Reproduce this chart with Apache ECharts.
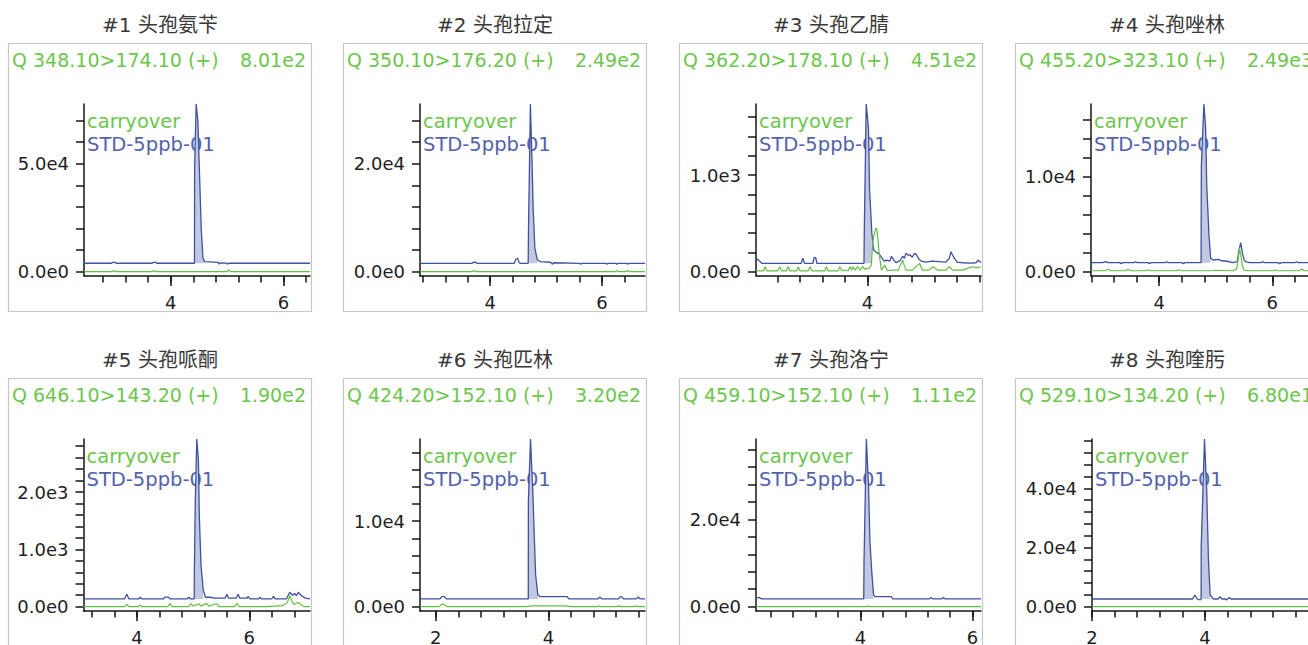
<!DOCTYPE html>
<html>
<head>
<meta charset="utf-8">
<script src="https://cdn.jsdelivr.net/npm/echarts@6/dist/echarts.min.js"></script>
<style>
  html, body { margin: 0; padding: 0; background: #fff; }
  #chart { width: 1308px; height: 645px; }
</style>
</head>
<body>
<div id="chart"></div>
<script>
// ---- panel texts ----
const compounds = ['#1 头孢氨苄', '#2 头孢拉定', '#3 头孢乙腈', '#4 头孢唑林',
                   '#5 头孢哌酮', '#6 头孢匹林', '#7 头孢洛宁', '#8 头孢喹肟'];
const transitions = ['Q 348.10>174.10 (+)', 'Q 350.10>176.20 (+)', 'Q 362.20>178.10 (+)', 'Q 455.20>323.10 (+)',
                     'Q 646.10>143.20 (+)', 'Q 424.20>152.10 (+)', 'Q 459.10>152.10 (+)', 'Q 529.10>134.20 (+)'];
const carryoverMax = ['8.01e2', '2.49e2', '4.51e2', '2.49e3', '1.90e2', '3.20e2', '1.11e2', '6.80e1'];
const traceNames = ['carryover', 'STD-5ppb-01'];

// ---- axis windows (retention time, min) ----
const xRanges = [[2.46, 6.47], [2.745, 6.77], [2.016, 6.025], [2.794, 6.79],
                 [3.05, 7.08], [1.72, 5.71], [2.14, 6.15], [2.0, 5.98]];
const xLabelValues = [[4, 6], [4, 6], [4], [4, 6], [4, 6], [2, 4], [4, 6], [2, 4]];
const xTickStep = 0.4;

// ---- axis windows (intensity, counts) ----
const yRanges = [[-1990, 77600], [-800, 31050], [-44, 1734], [-453, 17650],
                 [-75, 2925], [-506, 19610], [-992, 38460], [-1452, 56650]];
const yLabelValues = [[0, 50000], [0, 20000], [0, 1000], [0, 10000],
                      [0, 1000, 2000], [0, 10000], [0, 20000], [0, 20000, 40000]];
const yTickStep = [10000, 4000, 200, 2000, 200, 2000, 4000, 4000];

// ---- integrated peak window and its baseline level ----
const peakWindows = [[4.42, 4.60], [4.68, 4.845], [3.94, 4.08], [4.74, 4.91],
                     [5.02, 5.18], [3.64, 3.81], [4.06, 4.236], [3.93, 4.09]];
const peakBaselines = [3900, 1555, 87, 950, 135, 906, 1780, 2600];

// ---- chromatogram traces: [time, intensity] ----
const carryover1 = [[2.46,0],[2.96,0],[2.99,500],[3.02,0],[3.67,0],[3.70,500],[3.73,0],[5.00,0],[5.03,801],[5.06,0],[6.47,0]];
const std1 = [[2.46,3900],[2.95,3900],[2.97,4350],[3.01,4350],[3.03,3900],[3.67,3900],[3.69,4350],[3.73,4350],[3.75,3900],
  [4.42,3900],[4.423,48000],[4.45,77600],[4.48,70000],[4.51,45000],[4.54,20000],[4.57,6500],[4.60,4700],
  [4.70,4500],[4.80,4300],[4.84,4300],[4.86,3500],[4.88,4100],[4.99,4000],[5.01,3500],[5.03,3900],[6.47,3900]];

const carryover2 = [[2.745,0],[3.68,0],[3.71,249],[3.74,0],[6.23,0],[6.26,200],[6.29,0],[6.43,0],[6.46,220],[6.49,0],[6.77,0]];
const std2 = [[2.745,1555],[3.68,1555],[3.70,1750],[3.74,1750],[3.76,1555],[4.43,1555],[4.46,2300],[4.49,2480],[4.52,1650],[4.55,1555],
  [4.68,1555],[4.686,8040],[4.72,31050],[4.75,20000],[4.77,11430],[4.80,4330],[4.845,2170],[4.90,1850],[5.08,1750],[5.11,1400],[5.14,1650],
  [5.60,1555],[5.62,1380],[5.64,1555],[6.07,1555],[6.09,1380],[6.11,1555],[6.25,1555],[6.27,1380],[6.29,1555],[6.44,1555],[6.46,1380],[6.48,1555],[6.77,1555]];

const carryover3 = [[2.016,10],[2.15,10],[2.18,52],[2.21,10],[2.40,10],[2.44,52],[2.47,10],[2.56,10],[2.59,52],[2.62,10],[2.74,10],[2.77,52],[2.80,10],
  [2.95,10],[2.98,52],[3.01,10],[3.24,10],[3.27,52],[3.30,10],[3.48,10],[3.51,52],[3.54,17],[3.66,10],[3.69,52],[3.72,17],[3.74,52],[3.78,17],
  [3.83,52],[3.87,17],[3.92,52],[3.96,25],[4.04,40],[4.07,69],[4.10,328],[4.15,451],[4.17,440],[4.19,328],[4.21,190],[4.25,17],[4.31,69],[4.36,10],
  [4.45,17],[4.55,17],[4.63,121],[4.66,60],[4.69,17],[4.80,17],[4.93,87],[4.98,17],[5.10,17],[5.17,52],[5.25,17],[5.40,17],[5.46,52],[5.52,17],
  [5.70,17],[5.78,35],[5.88,52],[5.94,40],[6.025,52]];
const std3 = [[2.016,140],[2.06,120],[2.12,87],[2.82,87],[2.85,140],[2.88,87],[3.03,87],[3.05,145],[3.08,145],[3.10,87],
  [3.94,87],[3.945,400],[3.98,1734],[4.02,1485],[4.04,845],[4.08,400],[4.11,230],[4.16,200],[4.20,190],[4.25,150],[4.30,110],[4.34,120],
  [4.40,110],[4.43,160],[4.47,120],[4.51,95],[4.58,115],[4.63,160],[4.66,140],[4.69,190],[4.73,170],[4.76,175],[4.80,150],[4.84,190],
  [4.87,180],[4.92,130],[4.96,110],[5.05,100],[5.15,110],[5.28,105],[5.40,100],[5.46,140],[5.49,207],[5.52,170],[5.55,140],[5.60,100],
  [5.70,93],[5.85,90],[5.94,93],[5.97,120],[6.025,95]];

const carryover4 = [[2.794,100],[3.05,100],[3.10,250],[3.15,100],[3.40,100],[3.45,250],[3.50,100],[3.75,100],[3.80,200],[3.85,100],
  [4.30,100],[4.35,200],[4.40,100],[4.90,100],[5.00,150],[5.30,100],[5.37,300],[5.40,1500],[5.42,2490],[5.45,1500],[5.47,600],[5.50,150],
  [5.60,100],[6.00,100],[6.05,180],[6.10,100],[6.48,100],[6.52,300],[6.56,100],[6.79,100]];
const std4 = [[2.794,950],[3.0,950],[3.05,1050],[3.10,950],[3.30,950],[3.33,850],[3.36,950],[3.55,950],[3.58,1050],[3.61,950],
  [3.80,950],[3.83,850],[3.86,950],[4.10,950],[4.13,1050],[4.16,950],[4.40,950],[4.43,850],[4.46,950],[4.60,950],
  [4.74,950],[4.745,11050],[4.79,17650],[4.82,15270],[4.84,9130],[4.88,3860],[4.91,1410],[4.95,1230],[5.05,1300],[5.10,1150],
  [5.20,1100],[5.30,950],[5.38,1050],[5.41,2200],[5.44,3050],[5.47,2000],[5.50,1250],[5.53,1050],[5.60,950],
  [5.80,950],[5.83,1050],[5.86,950],[6.10,950],[6.13,850],[6.16,950],[6.40,950],[6.43,1050],[6.46,950],[6.79,950]];

const carryover5 = [[3.05,0],[3.78,0],[3.82,42],[3.86,0],[4.03,0],[4.06,30],[4.09,0],[4.55,0],[4.59,52],[4.63,0],[4.92,0],[4.96,52],
  [5.00,10],[5.10,52],[5.14,10],[5.24,60],[5.28,10],[5.42,52],[5.46,0],[5.74,0],[5.78,60],[5.82,0],[6.30,0],[6.60,20],[6.68,80],
  [6.72,190],[6.76,90],[6.80,40],[6.86,75],[6.89,60],[6.94,20],[6.99,0],[7.08,0]];
const std5 = [[3.05,135],[3.78,135],[3.82,218],[3.86,135],[4.03,135],[4.06,165],[4.09,135],[4.47,135],[4.50,168],[4.56,168],[4.59,135],
  [4.89,135],[4.92,165],[4.95,135],[5.02,135],[5.022,556],[5.04,1900],[5.066,2925],[5.095,2543],[5.11,1608],[5.14,731],[5.18,293],
  [5.22,165],[5.30,165],[5.38,150],[5.57,150],[5.60,218],[5.63,150],[5.77,150],[5.80,218],[5.83,150],[5.96,150],[5.98,180],[6.01,135],
  [6.17,135],[6.19,165],[6.22,135],[6.40,135],[6.43,180],[6.46,135],[6.66,135],[6.72,253],[6.77,200],[6.81,230],[6.84,190],[6.87,253],
  [6.92,200],[6.96,170],[7.00,150],[7.08,135]];

const carryover6 = [[1.72,0],[2.06,0],[2.10,250],[2.13,320],[2.17,150],[2.20,0],[3.60,0],[3.70,100],[4.30,100],[4.40,0],
  [4.86,0],[4.89,100],[4.92,0],[5.20,0],[5.24,100],[5.28,0],[5.50,0],[5.54,100],[5.58,0],[5.71,0]];
const std6 = [[1.72,906],[2.07,906],[2.11,1176],[2.15,1176],[2.19,906],[3.64,906],[3.642,12350],[3.68,19610],[3.72,13530],
  [3.74,9610],[3.77,3730],[3.81,1376],[3.85,1176],[4.10,1176],[4.33,1176],[4.36,906],[4.88,906],[4.91,1150],[4.94,906],
  [5.24,906],[5.27,1150],[5.30,1150],[5.33,906],[5.56,906],[5.59,1150],[5.62,906],[5.71,906]];

const carryover7 = [[2.14,0],[4.10,0],[4.14,111],[4.18,0],[6.15,0]];
const std7 = [[2.14,2080],[2.20,2080],[2.24,1780],[4.06,1780],[4.065,10380],[4.107,38460],[4.147,27310],[4.17,15000],[4.207,7310],
  [4.236,2700],[4.26,2310],[4.55,2310],[4.58,1780],[5.23,1780],[5.26,2080],[5.29,1780],[5.45,1780],[5.48,2080],[5.51,1780],[6.15,1780]];

const carryover8 = [[2.0,0],[3.96,0],[4.00,68],[4.04,0],[5.98,0]];
const std8 = [[2.0,2600],[3.78,2600],[3.82,3950],[3.86,2600],[3.91,2260],[3.93,2600],[3.932,20270],[3.99,56650],[4.03,38850],
  [4.06,15780],[4.09,3950],[4.15,2600],[4.23,2600],[4.26,3380],[4.30,2600],[4.36,2600],[4.38,2260],[4.40,2600],[4.43,3100],
  [4.46,2600],[5.98,2600]];

const carryoverTraces = [carryover1, carryover2, carryover3, carryover4, carryover5, carryover6, carryover7, carryover8];
const stdTraces = [std1, std2, std3, std4, std5, std6, std7, std8];

// ---- layout ----
const boxLefts = [8, 343, 679, 1015];
const boxTops = [43.5, 378.5];
const gridLefts = [84, 420, 756, 1091, 83.5, 420, 756, 1092];
const BOX_W = 303, BOX_H = 268;

const FONT = '"DejaVu Sans", "Noto Sans CJK SC", sans-serif';
const TITLE_SIZE = 20, HEADER_SIZE = 19, LEGEND_SIZE = 19.5, AXIS_LABEL_SIZE = 18;
const GREEN_TEXT = '#6cc64c';
const GREEN_LINE = '#62c040';
const BLUE_TEXT = '#5262ad';
const BLUE_LINE = '#3f519f';
const PEAK_FILL = '#c3c8e1';
const AXIS = '#151515';

function ticksBetween(min, max, step) {
  const out = [];
  const k0 = Math.ceil(min / step - 1e-9), k1 = Math.floor(max / step + 1e-9);
  for (let k = k0; k <= k1; k++) out.push(Math.round(k * step * 1000) / 1000);
  return out;
}

const textStyle = (text, size, fill, align) => ({
  text, font: size + 'px ' + FONT, fill,
  align, verticalAlign: 'middle', textAlign: align, textVerticalAlign: 'middle'
});

const grids = [], xAxes = [], yAxes = [], series = [], graphics = [];

compounds.forEach((name, i) => {
  const col = i % 4, row = Math.floor(i / 4);
  const bx = boxLefts[col], by = boxTops[row];
  const gl = gridLefts[i];
  const gTop = row === 0 ? 104 : 439;
  const gBottom = row === 0 ? 276 : 611;
  const gRight = bx + BOX_W - 1;

  grids.push({ left: gl, top: gTop, width: gRight - gl, height: gBottom - gTop,
               outerBoundsMode: 'none', containLabel: false });

  const [xmin, xmax] = xRanges[i];
  const [ymin, ymax] = yRanges[i];
  const xTicks = ticksBetween(xmin, xmax, xTickStep);
  const yTicks = ticksBetween(0, ymax, yTickStep[i]);

  // minor time ticks
  xAxes.push({
    type: 'value', gridIndex: i, min: xmin, max: xmax, position: 'bottom',
    axisLine: { show: true, onZero: false, lineStyle: { color: AXIS, width: 1.5 } },
    axisTick: { show: true, customValues: xTicks, length: 6.5, lineStyle: { color: AXIS, width: 1.5 } },
    axisLabel: { show: false }, splitLine: { show: false }
  });
  // labelled time ticks
  xAxes.push({
    type: 'value', gridIndex: i, min: xmin, max: xmax, position: 'bottom',
    axisLine: { show: false, onZero: false },
    axisTick: { show: true, customValues: xLabelValues[i], length: 10, lineStyle: { color: AXIS, width: 1.5 } },
    axisLabel: { show: true, customValues: xLabelValues[i], margin: 17,
                 formatter: v => String(Math.round(v)),
                 fontFamily: FONT, fontSize: AXIS_LABEL_SIZE, color: '#1e1e1e' },
    splitLine: { show: false }
  });
  yAxes.push({
    type: 'value', gridIndex: i, min: ymin, max: ymax,
    axisLine: { show: true, onZero: false, lineStyle: { color: AXIS, width: 1.5 } },
    axisTick: { show: true, customValues: yTicks, length: 8, lineStyle: { color: AXIS, width: 1.5 } },
    axisLabel: { show: true, customValues: yLabelValues[i], margin: 15,
                 formatter: v => v.toExponential(1).replace('e+', 'e'),
                 fontFamily: FONT, fontSize: AXIS_LABEL_SIZE, color: '#1e1e1e' },
    splitLine: { show: false }
  });

  const [p0, p1] = peakWindows[i];
  const peakPoints = stdTraces[i].filter(p => p[0] >= p0 && p[0] <= p1);

  // shaded integration area, standard trace, carryover trace
  series.push({
    name: traceNames[1] + ' peak', type: 'line', xAxisIndex: 2 * i, yAxisIndex: i,
    data: peakPoints, showSymbol: false, symbol: 'none', silent: true,
    lineStyle: { width: 0, opacity: 0 },
    areaStyle: { color: PEAK_FILL, opacity: 1, origin: peakBaselines[i] }
  });
  series.push({
    name: traceNames[1], type: 'line', xAxisIndex: 2 * i, yAxisIndex: i,
    data: stdTraces[i], showSymbol: false, symbol: 'none',
    lineStyle: { color: BLUE_LINE, width: 1.3 }
  });
  series.push({
    name: traceNames[0], type: 'line', xAxisIndex: 2 * i, yAxisIndex: i,
    data: carryoverTraces[i], showSymbol: false, symbol: 'none',
    lineStyle: { color: GREEN_LINE, width: 1.2 }
  });

  // panel frame and captions
  graphics.push({ type: 'rect', silent: true, z: -1,
    shape: { x: bx + 0.5, y: by, width: BOX_W, height: BOX_H },
    style: { fill: 'none', stroke: '#c6c6c6', lineWidth: 1.2 } });
  graphics.push({ type: 'text', x: bx + 152, y: by - 19, style: textStyle(name, TITLE_SIZE, '#383838', 'center') });
  graphics.push({ type: 'text', x: bx + 4, y: by + 16.5, style: textStyle(transitions[i], HEADER_SIZE, GREEN_TEXT, 'left') });
  graphics.push({ type: 'text', x: bx + 298, y: by + 16.5, style: textStyle(carryoverMax[i], HEADER_SIZE, GREEN_TEXT, 'right') });
  graphics.push({ type: 'text', x: gl + 3, y: by + 78, style: textStyle(traceNames[0], LEGEND_SIZE, GREEN_TEXT, 'left') });
  graphics.push({ type: 'text', x: gl + 3, y: by + 101, style: textStyle(traceNames[1], LEGEND_SIZE, BLUE_TEXT, 'left') });
});

const chart = echarts.init(document.getElementById('chart'), null, { renderer: 'svg' });
chart.setOption({
  animation: false,
  backgroundColor: '#ffffff',
  grid: grids,
  xAxis: xAxes,
  yAxis: yAxes,
  series: series,
  graphic: { elements: graphics }
});
</script>
</body>
</html>
